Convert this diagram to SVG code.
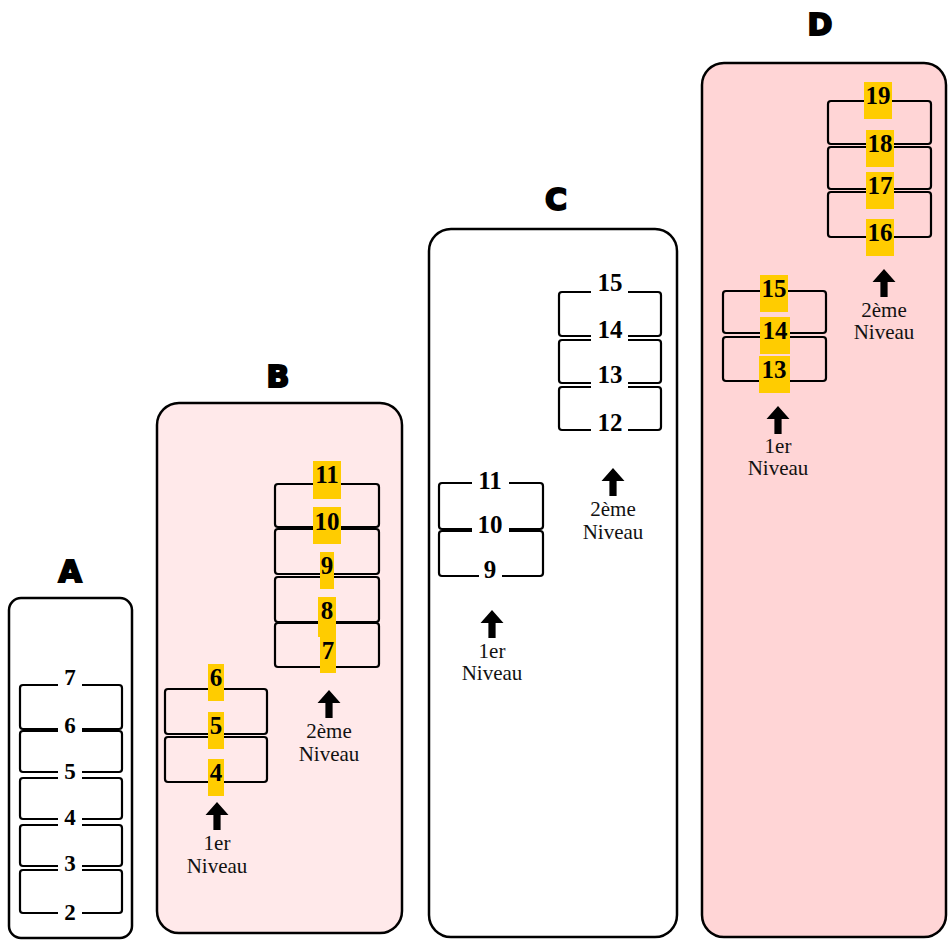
<svg xmlns="http://www.w3.org/2000/svg" width="948" height="941" viewBox="0 0 948 941">
<style>
.panel{stroke:#000;stroke-width:2.5}
.box{fill:none;stroke:#000;stroke-width:2.2}
.title{font-family:"DejaVu Sans",sans-serif;font-weight:bold;font-size:30px;fill:#000;stroke:#000;stroke-width:2;text-anchor:middle}
.num{font-family:"Liberation Serif","Times New Roman",serif;font-weight:bold;font-size:25px;fill:#000;text-anchor:middle}
.numA{font-size:23px}
.lvl{font-family:"Liberation Serif","Times New Roman",serif;font-size:21px;fill:#111;text-anchor:middle}
.ybg{fill:#ffcc00}
.wbg{fill:#fff}
.arr{fill:#000}
</style>
<defs>
<path id="up" d="M0,0 L11.5,13 L3.6,13 L3.6,28 L-3.6,28 L-3.6,13 L-11.5,13 Z"/>
</defs>
<rect width="948" height="941" fill="#fff"/>

<g id="panelA">
<text class="title" x="70" y="582">A</text>
<rect class="panel" x="9" y="598" width="123" height="340" rx="12" fill="#fff"/>
<g id="A-boxes">
<rect class="box" x="20" y="685" width="102" height="44" rx="3"/>
<rect class="box" x="20" y="731" width="102" height="41" rx="3"/>
<rect class="box" x="20" y="778" width="102" height="41" rx="3"/>
<rect class="box" x="20" y="825" width="102" height="41" rx="3"/>
<rect class="box" x="20" y="870" width="102" height="43" rx="3"/>
</g>
<g id="A-labels">
<rect class="wbg" x="58" y="666" width="24" height="23"/><text class="num numA" x="70" y="685">7</text>
<rect class="wbg" x="58" y="714" width="24" height="23"/><text class="num numA" x="70" y="733">6</text>
<rect class="wbg" x="58" y="760" width="24" height="23"/><text class="num numA" x="70" y="779">5</text>
<rect class="wbg" x="58" y="806" width="24" height="23"/><text class="num numA" x="70" y="825">4</text>
<rect class="wbg" x="58" y="852" width="24" height="23"/><text class="num numA" x="70" y="871">3</text>
<rect class="wbg" x="58" y="901" width="24" height="23"/><text class="num numA" x="70" y="920">2</text>
</g>
</g>

<g id="panelB">
<text class="title" x="278" y="387">B</text>
<rect class="panel" x="157" y="403" width="245" height="530" rx="22" fill="#ffe9ea"/>
<g id="B-level2">
<rect class="box" x="275" y="484" width="104" height="43" rx="3"/>
<rect class="box" x="275" y="529" width="104" height="45" rx="3"/>
<rect class="box" x="275" y="577" width="104" height="45" rx="3"/>
<rect class="box" x="275" y="623" width="104" height="44" rx="3"/>
<rect class="ybg" x="313" y="461" width="28" height="38"/><text class="num" x="327" y="483">11</text>
<rect class="ybg" x="313" y="507" width="28" height="37"/><text class="num" x="327" y="530">10</text>
<rect class="ybg" x="320" y="552" width="14" height="37"/><text class="num" x="327" y="574">9</text>
<rect class="ybg" x="318" y="597" width="18" height="40"/><text class="num" x="327" y="619">8</text>
<rect class="ybg" x="320" y="637" width="16" height="36"/><text class="num" x="328" y="659">7</text>
</g>
<g id="B-level1">
<rect class="box" x="165" y="689" width="102" height="45" rx="3"/>
<rect class="box" x="165" y="737" width="102" height="45" rx="3"/>
<rect class="ybg" x="208" y="664" width="16" height="37"/><text class="num" x="216" y="686">6</text>
<rect class="ybg" x="208" y="712" width="16" height="37"/><text class="num" x="216" y="734">5</text>
<rect class="ybg" x="208" y="759" width="16" height="37"/><text class="num" x="216" y="781">4</text>
</g>
<text class="lvl" x="217" y="850">1er</text><text class="lvl" x="217" y="873">Niveau</text>
<text class="lvl" x="329" y="738">2ème</text><text class="lvl" x="329" y="761">Niveau</text>
</g>

<g id="panelC">
<text class="title" x="556" y="210">C</text>
<rect class="panel" x="429" y="229" width="248" height="708" rx="22" fill="#fff"/>
<g id="C-level2">
<rect class="box" x="559" y="292" width="102" height="44" rx="3"/>
<rect class="box" x="559" y="340" width="102" height="43" rx="3"/>
<rect class="box" x="559" y="387" width="102" height="43" rx="3"/>
<rect class="wbg" x="591" y="272" width="37" height="24"/><text class="num" x="610" y="291">15</text>
<rect class="wbg" x="591" y="319" width="37" height="24"/><text class="num" x="610" y="338">14</text>
<rect class="wbg" x="591" y="364" width="37" height="24"/><text class="num" x="610" y="383">13</text>
<rect class="wbg" x="591" y="412" width="37" height="24"/><text class="num" x="610" y="431">12</text>
</g>
<g id="C-level1">
<rect class="box" x="439" y="483" width="104" height="46" rx="3"/>
<rect class="box" x="439" y="531" width="104" height="45" rx="3"/>
<rect class="wbg" x="472" y="470" width="37" height="24"/><text class="num" x="490" y="489">11</text>
<rect class="wbg" x="472" y="514" width="37" height="24"/><text class="num" x="490" y="533">10</text>
<rect class="wbg" x="479" y="559" width="23" height="24"/><text class="num" x="490" y="578">9</text>
</g>
<text class="lvl" x="492" y="658">1er</text><text class="lvl" x="492" y="680">Niveau</text>
<text class="lvl" x="613" y="516">2ème</text><text class="lvl" x="613" y="539">Niveau</text>
</g>

<g id="panelD">
<text class="title" x="820" y="35">D</text>
<rect class="panel" x="702" y="63" width="244" height="874" rx="22" fill="#ffd5d6"/>
<g id="D-level2">
<rect class="box" x="828" y="101" width="103" height="43" rx="3"/>
<rect class="box" x="828" y="147" width="103" height="42" rx="3"/>
<rect class="box" x="828" y="192" width="103" height="45" rx="3"/>
<rect class="ybg" x="864" y="82" width="28" height="37"/><text class="num" x="878" y="104">19</text>
<rect class="ybg" x="866" y="130" width="28" height="37"/><text class="num" x="880" y="152">18</text>
<rect class="ybg" x="866" y="172" width="28" height="37"/><text class="num" x="880" y="194">17</text>
<rect class="ybg" x="866" y="219" width="28" height="37"/><text class="num" x="880" y="241">16</text>
</g>
<g id="D-level1">
<rect class="box" x="723" y="291" width="103" height="42" rx="3"/>
<rect class="box" x="723" y="337" width="103" height="44" rx="3"/>
<rect class="ybg" x="760" y="275" width="28" height="37"/><text class="num" x="774" y="297">15</text>
<rect class="ybg" x="760" y="317" width="30" height="37"/><text class="num" x="775" y="339">14</text>
<rect class="ybg" x="759" y="356" width="31" height="37"/><text class="num" x="774" y="378">13</text>
</g>
<text class="lvl" x="778" y="453">1er</text><text class="lvl" x="778" y="475">Niveau</text>
<text class="lvl" x="884" y="317">2ème</text><text class="lvl" x="884" y="339">Niveau</text>
</g>

<g id="connectors">
<use href="#up" class="arr" x="217" y="802"/>
<use href="#up" class="arr" x="329" y="690"/>
<use href="#up" class="arr" x="492" y="610"/>
<use href="#up" class="arr" x="613" y="468"/>
<use href="#up" class="arr" x="778" y="406"/>
<use href="#up" class="arr" x="884" y="269"/>
</g>
</svg>
